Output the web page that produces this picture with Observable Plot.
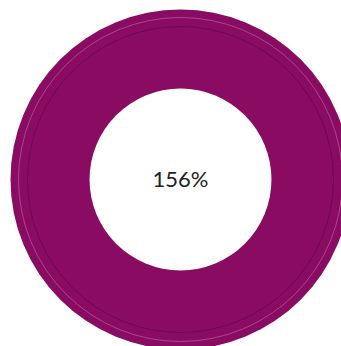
<!DOCTYPE html>
<html>
<head>
<meta charset="utf-8">
<script src="https://cdn.jsdelivr.net/npm/d3@7"></script>
<script src="https://cdn.jsdelivr.net/npm/@observablehq/plot@0.6"></script>
<style>
  html, body { margin: 0; padding: 0; background: #fff; }
</style>
</head>
<body>
<div id="chart"></div>
<script>
// Gauge value
const labels = ["156%"];
const percentValue = [156];
// Ring radii (relative to outer radius)
const ringParts = ["outer", "hole"];
const ringRadius = [1, 0.535];
const lineParts = ["light", "dark"];
const lineRadius = [0.953, 0.9];

const ring = ringParts.map((p, i) => ({part: p, r: ringRadius[i], x: 0, y: 0}));
const lines = lineParts.map((p, i) => ({part: p, r: lineRadius[i], x: 0, y: 0}));
const center = labels.map((t, i) => ({text: t, value: percentValue[i], x: 0, y: 0}));

const chart = Plot.plot({
  width: 341,
  height: 346,
  marginLeft: 19,
  marginRight: 0,
  marginTop: 12,
  marginBottom: 0,
  x: {domain: [-1, 1], axis: null},
  y: {domain: [-1, 1], axis: null},
  r: {type: "linear", domain: [0, 1], range: [0, 170]},
  style: {background: "#fff"},
  marks: [
    Plot.dot(ring, {
      x: "x", y: "y", r: "r",
      fill: d => d.part === "outer" ? "#8a0c62" : "#ffffff",
      stroke: "none"
    }),
    Plot.dot(lines, {
      x: "x", y: "y", r: "r",
      fill: "none",
      stroke: d => d.part === "light" ? "#b866a0" : "#5a0540",
      strokeWidth: 0.8,
      strokeOpacity: 0.8
    }),
    Plot.text(center, {
      x: "x", y: "y", text: "text",
      fontSize: 22,
      fontFamily: "Lato",
      fontWeight: 400,
      fill: "#222",
      dy: 0
    })
  ]
});
document.getElementById("chart").appendChild(chart);
</script>
</body>
</html>
